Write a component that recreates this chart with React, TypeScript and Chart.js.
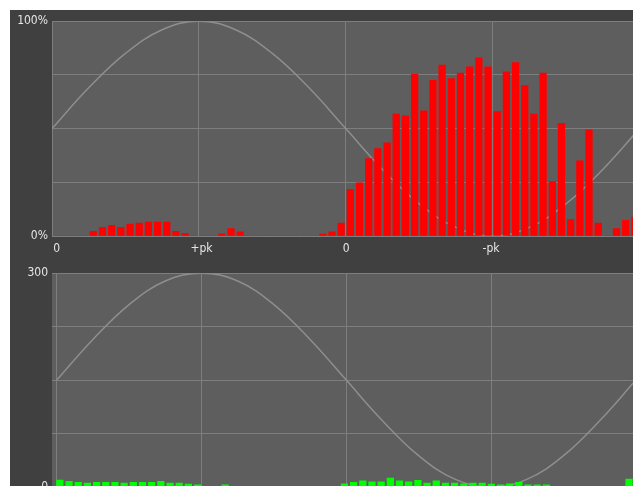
import React, { useEffect, useRef } from 'react';
import { Chart, registerables } from 'chart.js';

Chart.register(...registerables);

// ---- data ----
const BIN_COUNT = 64;
const phaseLabels = ['0', '+pk', '0', '-pk'];
const phaseTickQuarters = [0, 1, 2, 3];

// top panel: red histogram, percent (0..100)
const redPercent = [
  0, 0, 0, 0, 2.2, 4, 5, 4, 5.5, 6, 6.5, 6.5, 6.5, 2.2, 1.2, 0,
  0, 0, 1, 3.4, 1.9, 0, 0, 0, 0, 0, 0, 0, 0, 0.9, 1.9, 6,
  21.6, 24.7, 36, 40.7, 43.4, 56.8, 56, 75.3, 58.3, 72.5, 79.6, 73.3, 75.9, 78.7, 82.9, 78.7,
  57.9, 76.4, 80.7, 70, 56.8, 75.9, 25.3, 52.5, 7.7, 35, 49.4, 6, 0, 3.4, 7.3, 8.8,
];

// bottom panel: green histogram, counts (0..300)
const greenCounts = [
  9.7, 7.8, 6.4, 5.6, 6.4, 6.4, 6.4, 5.6, 6.4, 6.4, 6.4, 7.8, 5.6, 5.6, 4.2, 3.2,
  0, 0, 3.2, 0, 0, 0, 0, 0, 0, 0, 0, 0, 0, 0, 0, 4.6,
  6.4, 8.8, 7.4, 7.4, 12.5, 8.8, 7.4, 9.2, 5.6, 8.8, 5.6, 5.6, 4.6, 5.6, 5.6, 4.2,
  3.2, 4.6, 6.4, 3.2, 3.2, 3.2, 0, 0, 0, 0, 0, 0, 0, 0, 11.1, 8.8,
];

// reference waveform (grey curve), sampled every sixteenth of the period
const waveQuarter = [0, 0.25, 0.5, 0.75, 1, 1.25, 1.5, 1.75, 2, 2.25, 2.5, 2.75, 3, 3.25, 3.5, 3.75, 4];
const wavePercent = [50, 69, 85, 96, 100, 96, 85, 69, 50, 31, 15, 4, 0, 4, 15, 31, 50];
const waveCounts = [150, 207, 256, 289, 300, 289, 256, 207, 150, 93, 44, 11, 0, 11, 44, 93, 150];

const topTicks = ['0%', '100%'];
const bottomTicks = ['0', '300'];

// ---- styling ----
const OUTER_BG = '#404040';
const PLOT_BG = '#5e5e5e';
const GRID = '#7e7e7e';
const CURVE = '#8e8e8e';
const TEXT = '#e6e6e6';
const FONT = { family: '"DejaVu Sans Condensed", "DejaVu Sans", sans-serif', size: 12 };
const BAR_THICKNESS = 6.6;

// phase-axis range (quarter periods) so that its grid matches the reference
const XS_MIN = -0.0325;
const XS_MAX = 4.025;

const plotBg = {
  id: 'plotBg',
  beforeDraw(chart: any) {
    const { ctx, chartArea: a } = chart;
    ctx.save();
    ctx.fillStyle = PLOT_BG;
    ctx.fillRect(a.left, a.top, a.right - a.left, a.bottom - a.top);
    ctx.restore();
  },
};

function makeConfig(kind: 'top' | 'bottom'): any {
  const top = kind === 'top';
  const bars = (top ? redPercent : greenCounts).map((v, i) => ({ x: i + 0.5, y: v }));
  const wave = waveQuarter.map((q, i) => ({
    x: top ? q * (BIN_COUNT / 4) : q,
    y: top ? wavePercent[i] : waveCounts[i],
  }));
  const yMax = top ? 100 : 300;
  const yLabels = top ? topTicks : bottomTicks;
  return {
    type: 'bar',
    data: {
      datasets: [
        {
          type: 'line',
          data: wave,
          xAxisID: top ? 'x' : 'xs',
          yAxisID: 'y',
          borderColor: CURVE,
          borderWidth: 1.5,
          pointRadius: 0,
          tension: 0.4,
          fill: false,
          order: 2,
        },
        {
          type: 'bar',
          data: bars,
          xAxisID: 'x',
          yAxisID: 'y',
          backgroundColor: top ? '#ff0000' : '#00ff00',
          borderWidth: 0,
          barThickness: BAR_THICKNESS,
          order: 1,
        },
      ],
    },
    options: {
      animation: false,
      responsive: false,
      maintainAspectRatio: false,
      events: [],
      layout: { padding: top ? { left: 0, right: 10.5, top: 10, bottom: 0 } : { left: 0, right: 10.5, top: 8, bottom: 11 } },
      plugins: { legend: { display: false }, tooltip: { enabled: false } },
      scales: {
        x: {
          type: 'linear',
          position: 'bottom',
          min: 0,
          max: BIN_COUNT,
          offset: false,
          grid: { display: top, color: GRID, lineWidth: 1, drawTicks: false, offset: false },
          border: { display: false },
          ticks: { display: false },
          afterBuildTicks: (s: any) => {
            s.ticks = [0, 16, 32, 48, 64].map((v) => ({ value: v }));
          },
          afterFit: (s: any) => {
            s.height = 0;
          },
        },
        xs: {
          type: 'linear',
          position: 'bottom',
          min: XS_MIN,
          max: XS_MAX,
          offset: false,
          grid: { display: !top, color: GRID, lineWidth: 1, drawTicks: false, offset: false },
          border: { display: false },
          afterBuildTicks: (s: any) => {
            s.ticks = (top ? phaseTickQuarters : [0, 1, 2, 3, 4]).map((v) => ({ value: v }));
          },
          ticks: {
            color: TEXT,
            font: FONT,
            padding: 6,
            maxRotation: 0,
            autoSkip: false,
            callback: (_v: any, i: number) => phaseLabels[i] ?? '',
          },
          afterFit: (s: any) => {
            s.height = 26;
          },
        },
        y: {
          type: 'linear',
          position: 'left',
          min: 0,
          max: yMax,
          grid: { color: GRID, lineWidth: 1, drawTicks: false },
          border: { display: false },
          ticks: {
            stepSize: yMax / 4,
            color: TEXT,
            font: FONT,
            padding: 4,
            callback: (v: any) => (v === 0 ? yLabels[0] : v === yMax ? yLabels[1] : ''),
          },
          afterFit: (s: any) => {
            s.width = 42;
          },
        },
      },
    },
    plugins: [plotBg],
  };
}

export default function App() {
  const topRef = useRef<HTMLCanvasElement>(null);
  const botRef = useRef<HTMLCanvasElement>(null);

  useEffect(() => {
    const c1 = new Chart(topRef.current as HTMLCanvasElement, makeConfig('top'));
    const c2 = new Chart(botRef.current as HTMLCanvasElement, makeConfig('bottom'));
    return () => {
      c1.destroy();
      c2.destroy();
    };
  }, []);

  return (
    <div
      style={{
        position: 'fixed',
        left: 0,
        top: 0,
        width: 633,
        height: 486,
        overflow: 'hidden',
        background: '#ffffff',
      }}
    >
      <div
        style={{
          position: 'absolute',
          left: 10,
          top: 10,
          width: 640,
          height: 520,
          background: OUTER_BG,
        }}
      >
        <canvas
          ref={topRef}
          width={640}
          height={252}
          style={{ position: 'absolute', left: 0, top: 0, width: 640, height: 252 }}
        />
        <canvas
          ref={botRef}
          width={640}
          height={262}
          style={{ position: 'absolute', left: 0, top: 252, width: 640, height: 262 }}
        />
      </div>
    </div>
  );
}
